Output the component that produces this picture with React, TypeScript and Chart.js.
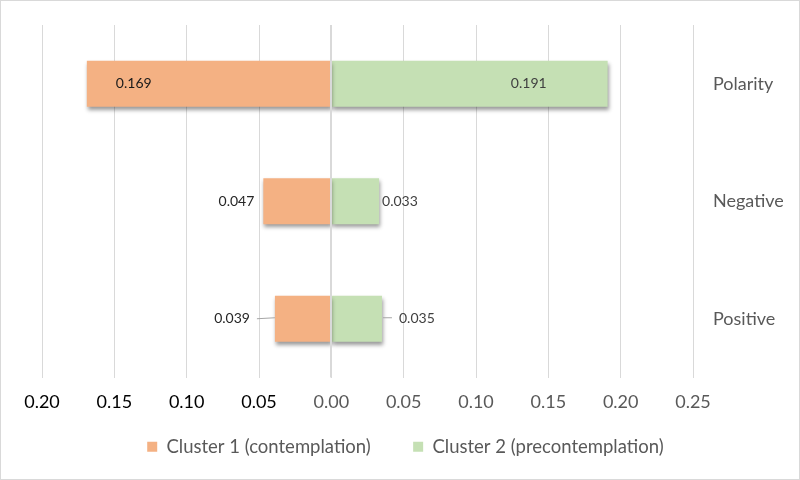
import React, { useEffect, useRef } from "react";
import { Chart, registerables } from "chart.js";

Chart.register(...registerables);

const categories = ["Polarity", "Negative", "Positive"];
const cluster1 = [0.169, 0.047, 0.039];
const cluster2 = [0.191, 0.033, 0.035];
const seriesNames = ["Cluster 1 (contemplation)", "Cluster 2 (precontemplation)"];
const xMin = -0.2;
const xMax = 0.25;
const xStep = 0.05;

const FONT = "Lato, 'Open Sans', sans-serif";

const labelModes: string[][] = [
  ["inEnd", "inEnd"],
  ["out", "out"],
  ["leader", "leader"],
];

const shadowPlugin = {
  id: "barShadow",
  beforeDatasetsDraw(chart: any) {
    const ctx = chart.ctx;
    ctx.save();
    ctx.shadowColor = "rgba(0,0,0,0.4)";
    ctx.shadowBlur = 4;
    ctx.shadowOffsetX = 1;
    ctx.shadowOffsetY = 3;
  },
  afterDatasetsDraw(chart: any) {
    chart.ctx.restore();
  },
};

const zeroLinePlugin = {
  id: "zeroLine",
  afterDatasetsDraw(chart: any) {
    const ctx = chart.ctx;
    const x = Math.round(chart.scales.x.getPixelForValue(0));
    ctx.save();
    ctx.strokeStyle = "#d9d9d9";
    ctx.lineWidth = 2;
    ctx.beginPath();
    ctx.moveTo(x, chart.chartArea.top);
    ctx.lineTo(x, chart.chartArea.bottom);
    ctx.stroke();
    ctx.restore();
  },
};

const labelPlugin = {
  id: "barLabels",
  afterDatasetsDraw(chart: any) {
    const ctx = chart.ctx;
    ctx.save();
    ctx.font = `14px ${FONT}`;
    ctx.textBaseline = "middle";
    chart.data.datasets.forEach((ds: any, di: number) => {
      const meta = chart.getDatasetMeta(di);
      meta.data.forEach((bar: any, i: number) => {
        const val = Math.abs(ds.data[i]);
        const text = val.toFixed(3);
        const mode = labelModes[i][di];
        const left = di === 0;
        const end = bar.x;
        const y = bar.y;
        ctx.fillStyle = "#262626";
        ctx.strokeStyle = "#a6a6a6";
        ctx.lineWidth = 1;
        if (mode === "inEnd") {
          if (left) {
            ctx.textAlign = "left";
            ctx.fillStyle = "#1a1a1a";
            ctx.fillText(text, end + 29, y);
          } else {
            ctx.textAlign = "right";
            ctx.fillStyle = "#404040";
            ctx.fillText(text, end - 61, y);
          }
        } else if (mode === "out") {
          if (left) {
            ctx.textAlign = "right";
            ctx.fillText(text, end - 9, y);
          } else {
            ctx.textAlign = "left";
            ctx.fillStyle = "#404040";
            ctx.fillText(text, end + 3, y);
          }
        } else {
          if (left) {
            ctx.beginPath();
            ctx.moveTo(end, y - 1);
            ctx.lineTo(end - 18, y);
            ctx.stroke();
            ctx.textAlign = "right";
            ctx.fillText(text, end - 25, y);
          } else {
            ctx.beginPath();
            ctx.moveTo(end + 1, y - 1);
            ctx.lineTo(end + 10, y - 1);
            ctx.stroke();
            ctx.textAlign = "left";
            ctx.fillStyle = "#404040";
            ctx.fillText(text, end + 17, y);
          }
        }
      });
    });
    ctx.restore();
  },
};

const legendTrail = ["      ", "   "];

export default function App() {
  const ref = useRef<HTMLCanvasElement>(null);
  useEffect(() => {
    if (!ref.current) return;
    const chart = new Chart(ref.current, {
      type: "bar",
      data: {
        labels: categories,
        datasets: [
          {
            label: seriesNames[0],
            data: cluster1.map((v) => -v),
            backgroundColor: "#F4B183",
            borderWidth: 0,
            barPercentage: 0.39,
            categoryPercentage: 1,
          },
          {
            label: seriesNames[1],
            data: cluster2,
            backgroundColor: "#C5E0B4",
            borderWidth: 0,
            barPercentage: 0.39,
            categoryPercentage: 1,
          },
        ],
      },
      options: {
        indexAxis: "y",
        animation: false,
        responsive: true,
        maintainAspectRatio: false,
        layout: { padding: { top: 24, left: 41, right: 16, bottom: 13 } },
        scales: {
          x: {
            stacked: true,
            min: xMin,
            max: xMax,
            border: { display: false },
            grid: { color: "#d9d9d9", drawTicks: false },
            afterFit: (s: any) => {
              s.height = 46;
              s.paddingLeft = 0;
              s.paddingRight = 0;
            },
            ticks: {
              stepSize: xStep,
              padding: 14,
              font: { size: 18, family: FONT },
              color: (c: any) => (c.tick && c.tick.value < -1e-9 ? "#000000" : "#595959"),
              callback: (v: any) => Math.abs(Number(v)).toFixed(2),
            },
          },
          y: {
            stacked: true,
            position: "right",
            border: { display: false },
            grid: { display: false, drawTicks: false },
            afterFit: (s: any) => {
              s.width = 90;
              s.paddingTop = 0;
              s.paddingBottom = 0;
            },
            ticks: {
              padding: 20,
              font: { size: 18, family: FONT },
              color: "#595959",
            },
          },
        },
        plugins: {
          legend: {
            position: "bottom",
            labels: {
              boxWidth: 10,
              boxHeight: 10,
              padding: 14,
              color: "#595959",
              font: { size: 18.5, family: FONT },
              generateLabels: (chart: any) => {
                const items = Chart.defaults.plugins.legend.labels.generateLabels(chart);
                return items.map((it: any, i: number) => ({ ...it, text: it.text + (legendTrail[i] || "") }));
              },
            },
          },
          tooltip: { enabled: false },
        },
      },
      plugins: [shadowPlugin, zeroLinePlugin, labelPlugin],
    });
    return () => chart.destroy();
  }, []);
  return (
    <div
      style={{
        position: "absolute",
        left: 0,
        top: 0,
        width: 800,
        height: 480,
        boxSizing: "border-box",
        border: "1px solid #d9d9d9",
        background: "#fff",
      }}
    >
      <canvas ref={ref} />
    </div>
  );
}
